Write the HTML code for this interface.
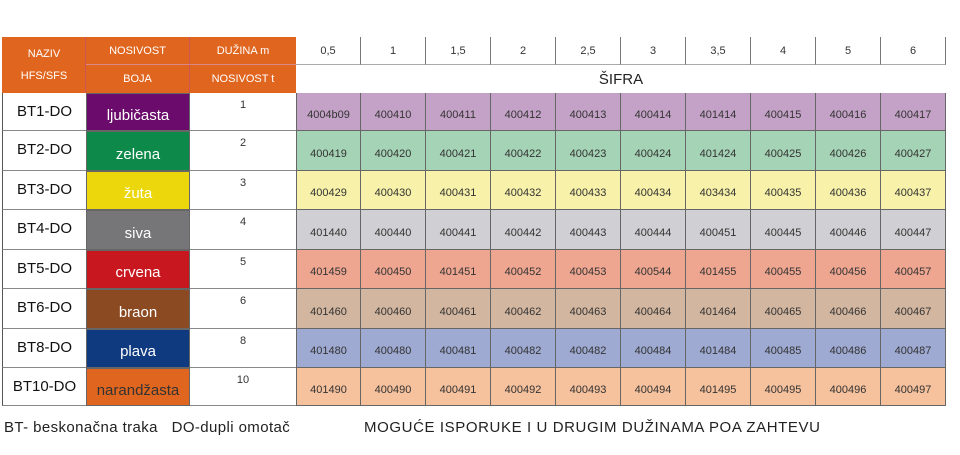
<!DOCTYPE html>
<html><head><meta charset="utf-8"><style>
body{margin:0;width:960px;height:455px;background:#fff;font-family:"Liberation Sans",sans-serif;position:relative;overflow:hidden}
.c{position:absolute;box-sizing:border-box;display:flex;align-items:center;justify-content:center;white-space:nowrap}
</style></head><body>
<div id="t"></div>
<div class="c" style="left:4px;top:416px;height:22px;font-size:15px;letter-spacing:0.4px;color:#222;justify-content:flex-start">BT- beskonačna traka&nbsp;&nbsp;&nbsp;DO-dupli omotač</div>
<div class="c" style="left:364px;top:416px;height:22px;font-size:15px;letter-spacing:0.6px;color:#222;justify-content:flex-start">MOGUĆE ISPORUKE I U DRUGIM DUŽINAMA POA ZAHTEVU</div>
<script>
const lengths=["0,5","1","1,5","2","2,5","3","3,5","4","5","6"];
const names=["BT1-DO","BT2-DO","BT3-DO","BT4-DO","BT5-DO","BT6-DO","BT8-DO","BT10-DO"];
const colorNames=["ljubičasta","zelena","žuta","siva","crvena","braon","plava","narandžasta"];
const capacities=["1","2","3","4","5","6","8","10"];
const codes=[
["4004b09","400410","400411","400412","400413","400414","401414","400415","400416","400417"],
["400419","400420","400421","400422","400423","400424","401424","400425","400426","400427"],
["400429","400430","400431","400432","400433","400434","403434","400435","400436","400437"],
["401440","400440","400441","400442","400443","400444","400451","400445","400446","400447"],
["401459","400450","401451","400452","400453","400544","401455","400455","400456","400457"],
["401460","400460","400461","400462","400463","400464","401464","400465","400466","400467"],
["401480","400480","400481","400482","400482","400484","401484","400485","400486","400487"],
["401490","400490","400491","400492","400493","400494","401495","400495","400496","400497"]];
const swatch=["#6b0c6c","#0d8a4a","#ecd70c","#767678","#c8171f","#8b4a22","#103a80","#e0661f"];
const pastel=["#c4a2c7","#a5d3b5","#f8f1a9","#d0d0d4","#eea690","#d3b69f","#9eaad2","#f6c19d"];
const txtCol=["#fff","#fff","#fff","#fff","#fff","#fff","#fff","#333"];
const T=document.getElementById('t');
function cell(x,y,w,h,txt,st,name){const d=document.createElement('div');d.className='c';
d.style.cssText=`left:${x}px;top:${y}px;width:${w}px;height:${h}px;`+st;d.textContent=txt;


T.appendChild(d);return d;}
const OR="#e0661f";
cell(2,37,84,56,"","background:"+OR+";border-right:1px solid #c55","header-naziv");
cell(2,37,84,56,"NAZIV\nHFS/SFS","color:#fff;font-size:11px;white-space:pre;text-align:center;line-height:22px","header-naziv-text");
cell(86,37,104,28,"NOSIVOST","background:"+OR+";color:#fff;font-size:11px;border-bottom:1px solid #d88;border-right:1px solid #c55","header-nosivost");
cell(86,65,104,28,"BOJA","background:"+OR+";color:#fff;font-size:11px;border-right:1px solid #c55","header-boja");
cell(190,37,106,28,"DUŽINA m","background:"+OR+";color:#fff;font-size:11px;border-bottom:1px solid #d88","header-duzina");
cell(190,65,106,28,"NOSIVOST t","background:"+OR+";color:#fff;font-size:11px","header-nosivost-t");
const x0=296,cw=65;
lengths.forEach((l,i)=>cell(x0+i*cw,37,cw,28,l,"border-right:1px solid #777;border-bottom:1px solid #aaa;font-size:11px;color:#333","length-"+i));
cell(x0,65,650,28,"ŠIFRA","font-size:15px;color:#222","header-sifra");
const ys=[93,131,171,210,250,289,329,368,406];
names.forEach((n,r)=>{const y=ys[r],h=ys[r+1]-y;
cell(2,y,84,h,n,"font-size:15px;color:#111;border-left:1px solid #555;border-bottom:1px solid #888;align-items:flex-start;padding-top:10px","row-name-"+r);
cell(86,y,104,h,colorNames[r],`background:${swatch[r]};color:${txtCol[r]};font-size:15px;border:1px solid #666;padding-top:6px`,"color-swatch-"+r);
cell(190,y,106,h,capacities[r],"font-size:11px;color:#333;border-bottom:1px solid #888;align-items:flex-start;padding-top:6px","capacity-"+r);
codes[r].forEach((c,i)=>cell(x0+i*cw,y,cw,h,c,`background:${pastel[r]};font-size:11px;color:#333;border-right:1px solid #666;border-bottom:1px solid #666;border-left:${i==0?'1px solid #666':'0'};padding-top:6px`,`code-${r}-${i}`));
});
</script>
</body></html>
